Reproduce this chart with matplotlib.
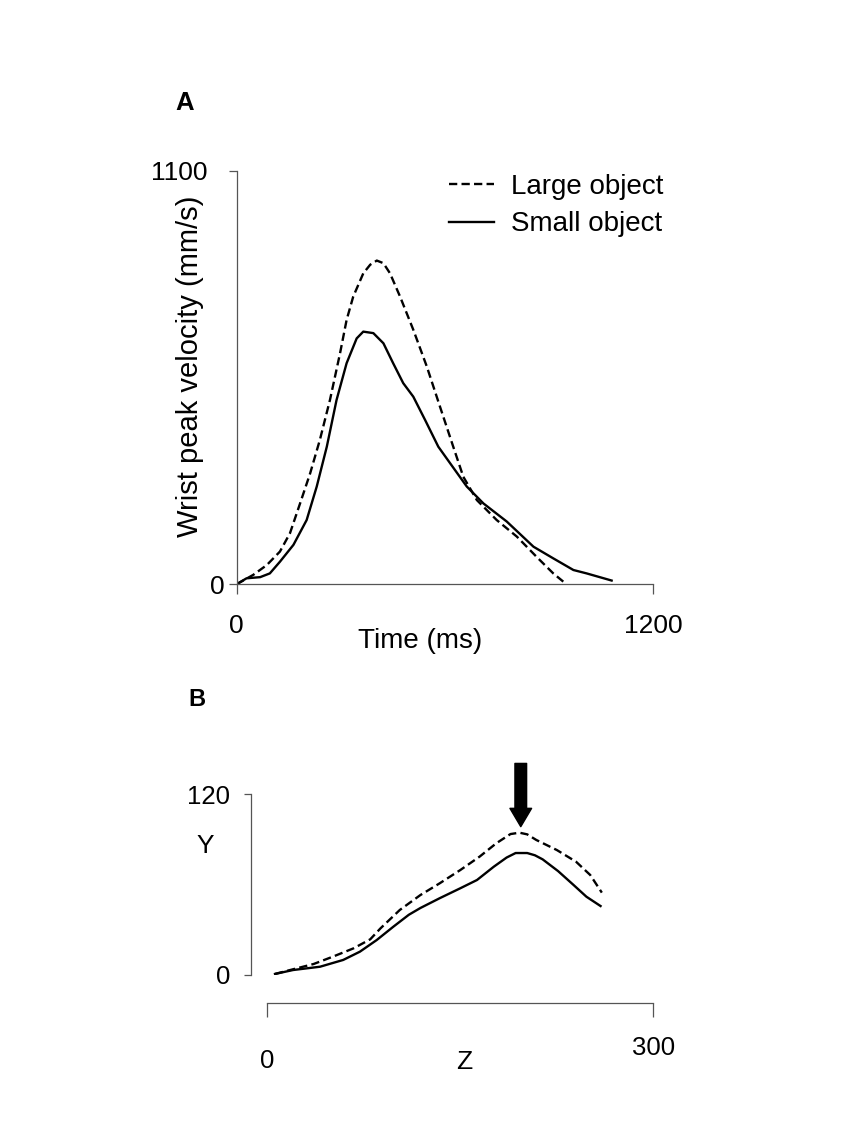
import numpy as np
import matplotlib.pyplot as plt

plt.rcParams['font.family'] = ['Liberation Sans', 'DejaVu Sans']

# Panel A - wrist velocity (ms, mm/s)
t_large = [0, 48, 87, 125, 154, 183, 212, 240, 269, 298, 317, 336, 365, 385, 404, 423, 442, 471,
           509, 548, 586, 624, 653, 692, 749, 807, 864, 912, 941]
v_large = [0, 25, 51, 87, 136, 215, 295, 384, 490, 614, 703, 765, 827, 850, 861, 854, 827, 765,
           677, 579, 472, 366, 286, 224, 171, 127, 73, 29, 7]
t_small = [0, 29, 68, 96, 125, 164, 202, 231, 260, 288, 317, 346, 365, 394, 423, 451, 480, 509,
           543, 581, 615, 663, 711, 778, 855, 912, 970, 1008, 1080]
v_small = [0, 16, 19, 29, 60, 105, 171, 260, 366, 490, 588, 654, 672, 668, 641, 588, 535, 499,
           437, 366, 322, 260, 215, 167, 100, 69, 38, 29, 10]

# Panel B - trajectory (Z, Y)
z_large = [6, 20, 36, 51, 67, 80, 88, 103, 119, 134, 150, 165, 178, 189, 196, 202, 209, 225, 240, 251, 260]
y_large = [0.7, 3.8, 7.3, 12.2, 17.7, 23.7, 31.0, 43.2, 53.1, 60.9, 69.7, 78.6, 87.5, 93.6, 94.5, 93.4, 89.7,
           83.0, 75.2, 66.4, 54.7]
z_small = [6, 20, 41, 59, 72, 85, 98, 110, 119, 134, 150, 163, 176, 186, 193, 202, 208, 214, 226, 238, 248, 259]
y_small = [0.7, 3.3, 5.5, 10, 15.5, 23.2, 32.1, 40, 44.5, 51, 57.6, 63.1, 71.9, 78, 81, 81, 79.5, 76.8,
           69, 59.8, 52, 45.8]
arrow_z = 197
arrow_top, arrow_tip = 140.5, 98.5

xticks_a = [0, 1200]
yticks_a = [0, 1100]
xticks_b = [0, 300]
yticks_b = [0, 120]

W, H = 841, 1124
fig = plt.figure(figsize=(W / 100, H / 100), dpi=100)

def box(x0, y0, x1, y1):
    return [x0 / W, 1 - y1 / H, (x1 - x0) / W, (y1 - y0) / H]

spine_c = '#555555'
dash = (3.5, 1.8)
lw = 1.7

# ---- A ----
ax = fig.add_axes(box(236.5, 170.7, 653.3, 584.3))
ax.plot(t_large, v_large, color='black', lw=lw, ls=(0, dash), label='Large object')
ax.plot(t_small, v_small, color='black', lw=lw, label='Small object')
ax.set_xlim(0, 1200)
ax.set_ylim(0, 1100)
ax.set_xticks(xticks_a)
ax.set_yticks(yticks_a)
for s in ['top', 'right']:
    ax.spines[s].set_visible(False)
for s in ['left', 'bottom']:
    ax.spines[s].set_color(spine_c)
    ax.spines[s].set_linewidth(0.9)
ax.tick_params(axis='y', length=5.8, width=0.9, color=spine_c, labelsize=19, pad=2.5)
ax.tick_params(axis='x', length=7.2, width=0.9, color=spine_c, labelsize=19, pad=14)
ax.yaxis.get_major_ticks()[1].label1.set_x(-0.041)
ax.xaxis.get_major_ticks()[1].label1.set_x(1214)
ax.set_xlabel('Time (ms)', fontsize=20)
ax.xaxis.set_label_coords((420 - 236.5) / 416.8, -0.105)
ax.set_ylabel('Wrist peak velocity (mm/s)', fontsize=21)
ax.yaxis.set_label_coords(-0.078, 0.5266)
ax.legend(loc='upper left', bbox_to_anchor=(449 / W, 1 - 174 / H), bbox_transform=fig.transFigure,
          frameon=False, fontsize=20, handlelength=1.62, handletextpad=0.6, labelspacing=0.41,
          borderpad=0, borderaxespad=0)
fig.text(175 / W, 1 - 103 / H, 'A', fontsize=18.5, fontweight='bold', va='center')

# ---- B ----
bx = fig.add_axes(box(267.3, 794.3, 653.3, 975))
bx.plot(z_large, y_large, color='black', lw=lw, ls=(0, dash))
bx.plot(z_small, y_small, color='black', lw=lw)
bx.set_xlim(0, 300)
bx.set_ylim(0, 120)
bx.set_xticks(xticks_b)
bx.set_yticks(yticks_b)
for s in ['top', 'right']:
    bx.spines[s].set_visible(False)
bx.spines['left'].set_position(('outward', 12))
bx.spines['bottom'].set_position(('outward', 20.4))
for s in ['left', 'bottom']:
    bx.spines[s].set_color(spine_c)
    bx.spines[s].set_linewidth(0.9)
bx.tick_params(axis='y', length=5.3, width=0.9, color=spine_c, labelsize=18.5, pad=9.5)
bx.tick_params(axis='x', length=10, width=0.9, color=spine_c, labelsize=18.5, pad=13.4)
bx.xaxis.get_major_ticks()[0].label1.set_y(-0.072)
bx.annotate('', xy=(arrow_z, arrow_tip), xytext=(arrow_z, arrow_top),
            arrowprops=dict(width=8.4, headwidth=15.6, headlength=13.2, color='black'),
            annotation_clip=False)
fig.text(464 / W, 1 - 1062 / H, 'Z', fontsize=19, ha='center', va='center')
fig.text(205 / W, 1 - 846 / H, 'Y', fontsize=19, ha='center', va='center')
fig.text(188 / W, 1 - 700 / H, 'B', fontsize=17, fontweight='bold', va='center')

fig.savefig('out.png', dpi=100, facecolor='white')
